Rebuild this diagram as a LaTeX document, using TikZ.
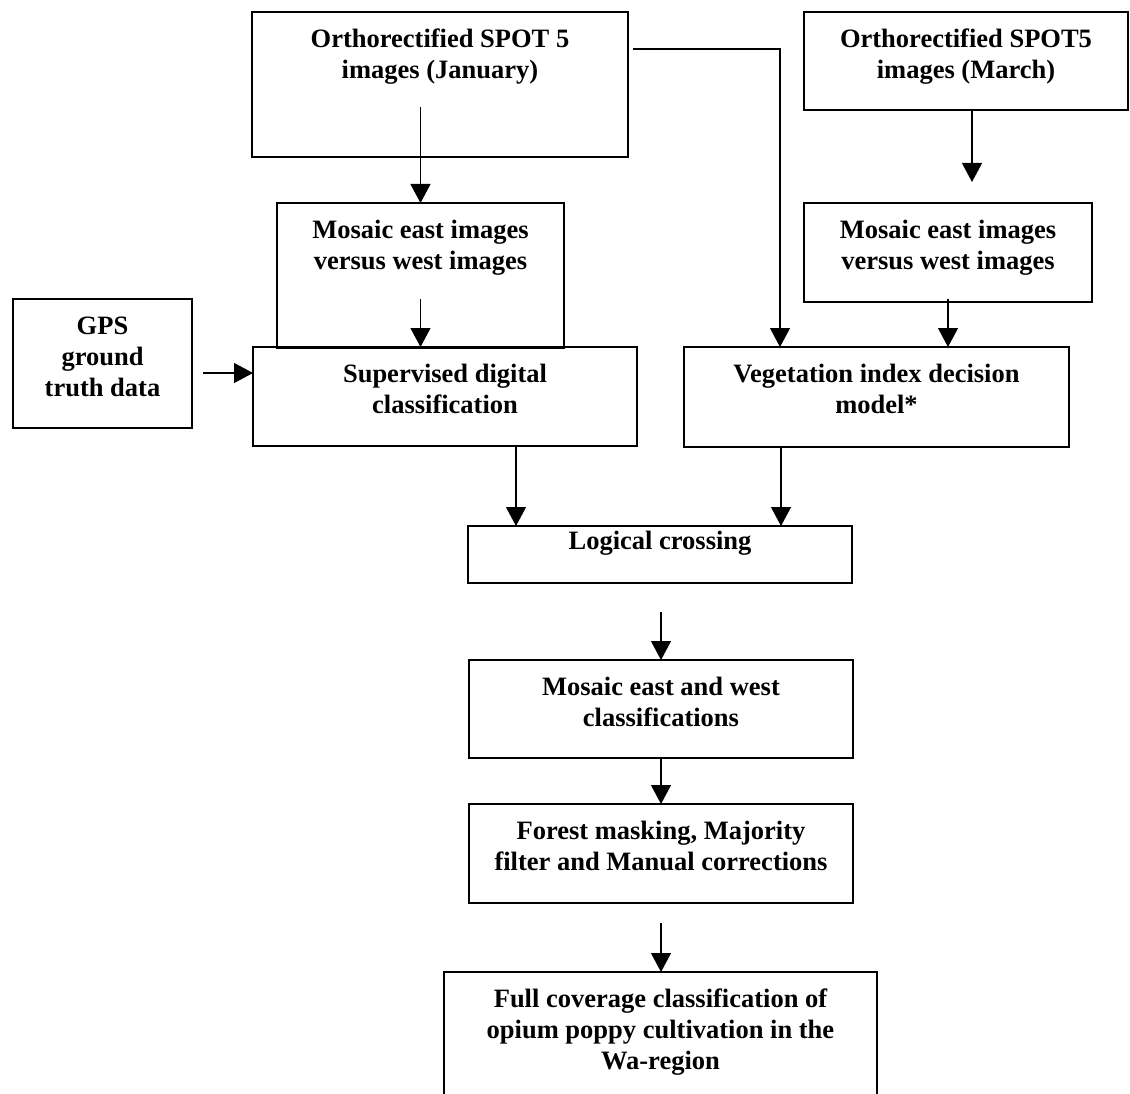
\documentclass[tikz,border=0pt]{standalone}
\usepackage{fontspec}
\setmainfont{Liberation Serif}
\usetikzlibrary{arrows.meta,positioning}

\begin{document}
\begin{tikzpicture}[
    x=1pt, y=-1pt,
    box/.style={rectangle,draw,line width=1.5pt,anchor=north west,inner sep=0pt,outer sep=0pt},
    txt/.style={align=center,inner sep=0pt,font=\fontsize{26.5}{31}\selectfont\bfseries},
    arrow/.style={-{Triangle[length=19pt,width=20pt]},line width=1.2pt}
]
\clip (0,0) rectangle (1130,1094);
% boxes
\node[box,minimum width=376pt,minimum height=145pt] (jan) at (252,12) {};
\node[box,minimum width=324pt,minimum height=98pt] (march) at (804,12) {};
\node[box,minimum width=287pt,minimum height=145pt] (mosL) at (277,203) {};
\node[box,minimum width=288pt,minimum height=99pt] (mosR) at (804,203) {};
\node[box,minimum width=179pt,minimum height=129pt] (gps) at (13,299) {};
\node[box,minimum width=384pt,minimum height=99pt] (sup) at (253,347) {};
\node[box,minimum width=385pt,minimum height=100pt] (veg) at (684,347) {};
\node[box,minimum width=384pt,minimum height=57pt] (logic) at (468,526) {};
\node[box,minimum width=384pt,minimum height=98pt] (mosEW) at (469,660) {};
\node[box,minimum width=384pt,minimum height=99pt] (forest) at (469,804) {};
\node[box,minimum width=433pt,minimum height=160pt] (final) at (444,972) {};

% texts
\node[txt,below=14pt of jan.north] (janT) {\strut Orthorectified SPOT 5\\images (January)};
\node[txt,below=14pt of march.north] (marchT) {\strut Orthorectified SPOT5\\images (March)};
\node[txt,below=14pt of mosL.north] (mosLT) {\strut Mosaic east images\\versus west images};
\node[txt,below=14pt of mosR.north] (mosRT) {\strut Mosaic east images\\versus west images};
\node[txt,below=14pt of gps.north] (gpsT) {\strut GPS\\ground\\truth data};
\node[txt,below=14pt of sup.north] (supT) {\strut Supervised digital\\classification};
\node[txt,below=14pt of veg.north] (vegT) {\strut Vegetation index decision\\model*};
\node[txt,below=2pt of logic.north] (logicT) {\strut Logical crossing};
\node[txt,below=14pt of mosEW.north] (mosEWT) {\strut Mosaic east and west\\classifications};
\node[txt,below=14pt of forest.north] (forestT) {\strut Forest masking, Majority\\filter and Manual corrections};
\node[txt,below=14pt of final.north] (finalT) {\strut Full coverage classification of\\opium poppy cultivation in the\\Wa-region};

% connectors
\coordinate (gpsout) at ([xshift=11pt,yshift=-9.5pt]gps.east);
\coordinate (janout) at ([xshift=5pt,yshift=35.5pt]jan.east);
\draw[arrow] ([yshift=50pt]mosL.north |- jan.south) -- (mosL.north);
\draw[arrow] ([yshift=49pt]mosL.south) -- (mosL.south |- sup.north);
\draw[arrow] (gpsout) -- (gpsout -| sup.west);
\draw[arrow] (janout) -| ([xshift=-96.5pt]veg.north);
\draw[arrow] ([xshift=6pt]march.south) -- ([xshift=6pt,yshift=21pt]march.south |- mosR.north);
\draw[arrow] ([yshift=3pt]mosR.south) -- (mosR.south |- veg.north);
\draw[arrow] ([xshift=71pt]sup.south) -- ([xshift=71pt]sup.south |- logic.north);
\draw[arrow] ([xshift=-95.5pt]veg.south) -- ([xshift=-95.5pt]veg.south |- logic.north);
\draw[arrow] ([yshift=-29pt]mosEW.north |- logic.south) -- (mosEW.north);
\draw[arrow] (mosEW.south) -- (forest.north);
\draw[arrow] ([yshift=-20pt]forest.south) -- (forest.south |- final.north);
\end{tikzpicture}
\end{document}
